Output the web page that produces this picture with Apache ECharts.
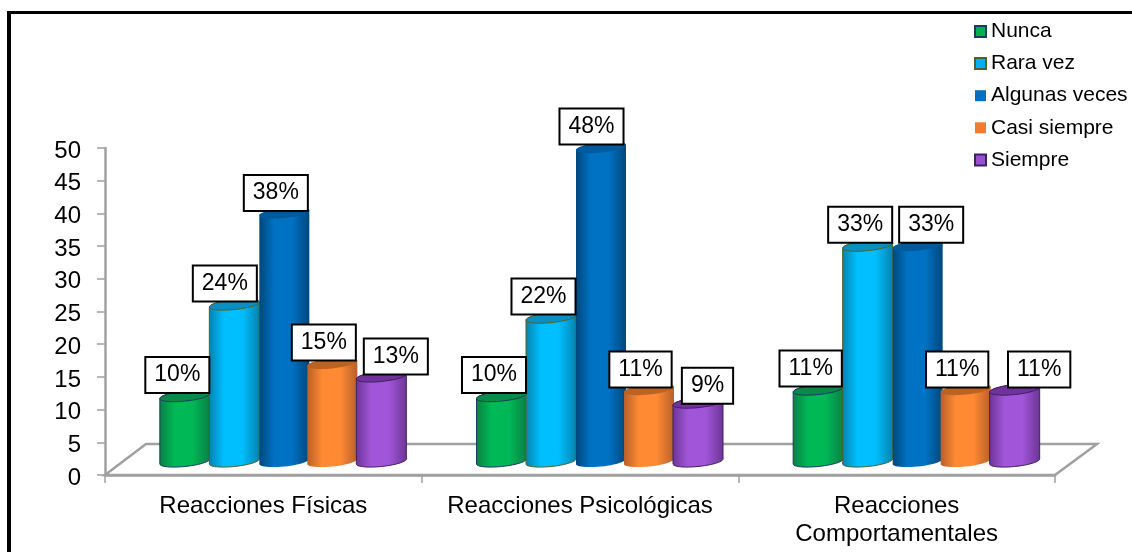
<!DOCTYPE html>
<html><head><meta charset="utf-8">
<style>html,body{margin:0;padding:0;background:#fff}#c{width:1132px;height:552px}</style>
<script src="https://cdn.jsdelivr.net/npm/echarts@6/dist/echarts.min.js"></script>
</head><body><div id="c"></div>
<script>
var categories = ['Reacciones Físicas', 'Reacciones Psicológicas', 'Reacciones\nComportamentales'];
var seriesNames = ['Nunca', 'Rara vez', 'Algunas veces', 'Casi siempre', 'Siempre'];
var nunca = [10, 10, 11];
var raraVez = [24, 22, 33];
var algunasVeces = [38, 48, 33];
var casiSiempre = [15, 11, 11];
var siempre = [13, 9, 11];
var nuncaLabels = ['10%', '10%', '11%'];
var raraVezLabels = ['24%', '22%', '33%'];
var algunasVecesLabels = ['38%', '48%', '33%'];
var casiSiempreLabels = ['15%', '11%', '11%'];
var siempreLabels = ['13%', '9%', '11%'];

var allValues = [nunca, raraVez, algunasVeces, casiSiempre, siempre];
var allLabels = [nuncaLabels, raraVezLabels, algunasVecesLabels, casiSiempreLabels, siempreLabels];

// presentation
var FONT = '"Liberation Sans", Arial, sans-serif';
var barDx = [-78.5, -29, 21, 69, 118];   // bar centre relative to category centre
var baseLift = 13.5, rx = 25, ry = 5, skew = 2.5;
var labelNudge = [
  [[-8,-21],[-8,-21],[-8,-21]],
  [[-10,-21],[-8,-21],[-8,-21]],
  [[-9,-20],[-10,-21],[13,-21]],
  [[-9,-21],[-9,-20],[-9,-20]],
  [[14,-20],[9,-17],[24,-20]]
];
var palette = [
  {edge:'#0a7f45', mid:'#00b855', top:'#0a8a48', line:'#1f3864', legend:'#00b050'},
  {edge:'#0482ad', mid:'#00bfff', top:'#0a8fc4', line:'#4f6228', legend:'#00b0f0'},
  {edge:'#00477c', mid:'#0072c4', top:'#005a9c', line:null, legend:'#0070c0'},
  {edge:'#b8602a', mid:'#ff8a33', top:'#bb6322', line:null, legend:'#f07c2c'},
  {edge:'#6c3594', mid:'#a155d8', top:'#6f3399', line:'#3f1f66', legend:'#9a4fd0'}
];

function ellipsePts(cx, cy, from, to, n) {
  var pts = [];
  for (var i = 0; i <= n; i++) {
    var t = from + (to - from) * i / n;
    pts.push([cx + rx * Math.cos(t), cy + ry * Math.sin(t) - skew * Math.cos(t)]);
  }
  return pts;
}

function cylinderRenderer(si) {
  return function (params, api) {
    var cat = api.value(0), val = api.value(1);
    var base = api.coord([cat, 0]);
    var topP = api.coord([cat, val]);
    var cx = base[0] + barDx[si];
    var by = base[1] - baseLift, ty = topP[1] - baseLift;
    var p = palette[si];
    var grad = {type:'linear', x:0, y:0, x2:1, y2:0, colorStops:[
      {offset:0, color:p.edge},{offset:0.3, color:p.mid},{offset:0.65, color:p.mid},{offset:1, color:p.edge}]};
    var lw = p.line ? 1 : 0;
    var body = ellipsePts(cx, by, Math.PI, 0, 24)
      .concat(ellipsePts(cx, ty, 0, -Math.PI, 24));
    var nudge = labelNudge[si][params.dataIndex];
    return {type:'group', children:[
      {type:'polygon', z2:si*2+1, shape:{points:body},
        style:{fill:grad, stroke:p.line||'none', lineWidth:lw}},
      {type:'polygon', z2:si*2+2, shape:{points:ellipsePts(cx, ty, 0, Math.PI*2, 48)},
        style:{fill:p.top, stroke:p.line||'none', lineWidth:lw}},
      {type:'text', z2:100, x:cx+nudge[0]+0.5, y:ty+nudge[1],
        style:{text:allLabels[si][params.dataIndex], font:'23px '+FONT, fill:'#000',
          align:'center', verticalAlign:'middle', backgroundColor:'#fff',
          borderColor:'#000', borderWidth:2, padding:[6,8,5,8]}}
    ]};
  };
}

function floorRenderer(params, api) {
  var mid = api.coord([0, 0]);
  var band = api.size([1, 0])[0];
  var left = mid[0] - band / 2, right = left + band * categories.length, y = mid[1];
  var dx = 41, dy = 31;
  var pts = [[left,y],[left+dx,y-dy],[right+dx+1,y-dy],[right,y]];
  return {type:'polygon', shape:{points:pts}, style:{fill:'#fff', stroke:'#a0a0a0', lineWidth:2.5}};
}

var series = [{type:'custom', name:'floor', z:1, silent:true, clip:false, data:[[0,0]], renderItem:floorRenderer, encode:{x:0,y:1}}];
seriesNames.forEach(function (n, si) {
  series.push({
    type:'custom', name:n, z:2, clip:false,
    itemStyle:{color:palette[si].legend, borderColor:palette[si].line||palette[si].legend, borderWidth:palette[si].line?1.5:0},
    data:allValues[si].map(function (v, i) { return [i, v]; }),
    encode:{x:0, y:1},
    renderItem:cylinderRenderer(si)
  });
});

var chart = echarts.init(document.getElementById('c'), null, {renderer:'canvas'});
chart.setOption({
  animation:false,
  backgroundColor:'#fff',
  textStyle:{fontFamily:FONT},
  grid:{left:105, right:77, top:148, bottom:77, containLabel:false},
  legend:{
    orient:'vertical', left:974, top:21, padding:0, icon:'rect', itemWidth:11, itemHeight:11, itemGap:11.1,
    data:seriesNames, selectedMode:false,
    textStyle:{fontSize:21, color:'#000', fontFamily:FONT, height:16, lineHeight:16}
  },
  xAxis:{
    type:'category', data:categories, boundaryGap:true,
    axisLine:{show:true, onZero:false, lineStyle:{color:'#a0a0a0', width:2.5}},
    axisTick:{show:true, length:8, lineStyle:{color:'#a0a0a0', width:1.5}},
    axisLabel:{color:'#000', fontSize:24, fontFamily:FONT, margin:17, lineHeight:28, interval:0}
  },
  yAxis:{
    type:'value', min:0, max:50, interval:5,
    axisLine:{show:true, lineStyle:{color:'#a0a0a0', width:2.5}},
    axisTick:{show:true, length:8, lineStyle:{color:'#a0a0a0', width:1.5}},
    splitLine:{show:false},
    axisLabel:{color:'#000', fontSize:24, fontFamily:FONT, margin:24, formatter:'{n|{value}}',
      rich:{n:{fontSize:24, color:'#000', fontFamily:FONT, padding:[6,0,0,0]}}}
  },
  graphic:[
    {type:'rect', silent:true, shape:{x:7, y:11, width:1125, height:3}, style:{fill:'#000'}},
    {type:'rect', silent:true, shape:{x:7, y:11, width:4, height:541}, style:{fill:'#000'}}
  ],
  series:series
});
</script></body></html>
